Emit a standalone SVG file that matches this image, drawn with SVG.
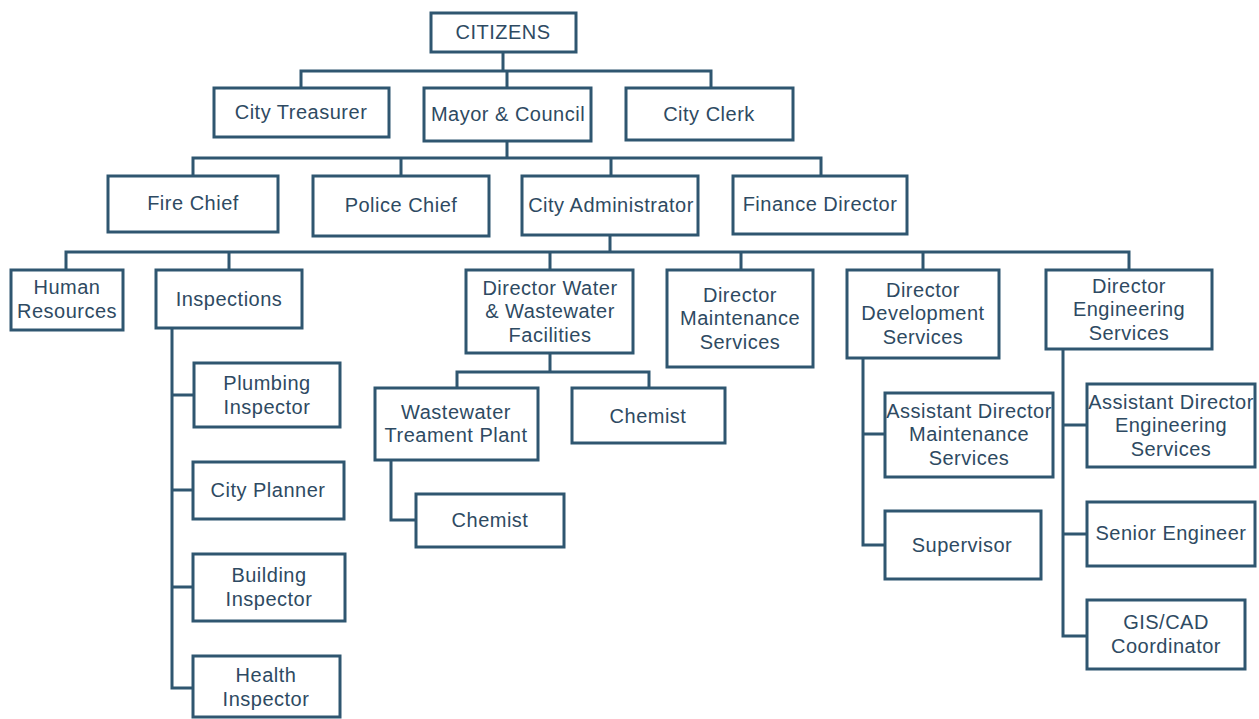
<svg xmlns="http://www.w3.org/2000/svg" width="1259" height="719" viewBox="0 0 1259 719">
<style>
.b{fill:#fff;stroke:#2f5670;stroke-width:3}
.t{font-family:"Liberation Sans",Arial,sans-serif;font-size:20px;letter-spacing:0.5px;fill:#2e4a62;text-anchor:middle}
.c{fill:none;stroke:#2f5670;stroke-width:3}
</style>
<rect width="1259" height="719" fill="#fff"/>
<g id="connectors">
<path class="c" d="M503 52V71M301 88V71H711V88M507 71V88"/>
<path class="c" d="M507 141V158M193 176V158H821V176M401 158V176M611 158V176"/>
<path class="c" d="M610 235V252M66 270V252H1129V270M229 252V270M550 252V270M741 252V270M923 252V270"/>
<path class="c" d="M172 328V688H193M172 395H194M172 490H193M172 587H193"/>
<path class="c" d="M550 353V372M457 388V372H649V388"/>
<path class="c" d="M391 460V520H416"/>
<path class="c" d="M863 358V545H885M863 434H885"/>
<path class="c" d="M1063 349V636H1087M1063 425H1087M1063 534H1087"/>
</g>
<g id="citizens"><rect class="b" x="431" y="13" width="145" height="39"/><text class="t" x="503" y="39">CITIZENS</text></g>
<g id="treasurer"><rect class="b" x="214" y="88" width="175" height="49"/><text class="t" x="301" y="119">City Treasurer</text></g>
<g id="mayor"><rect class="b" x="424" y="88" width="167" height="53"/><text class="t" x="508" y="121">Mayor &amp; Council</text></g>
<g id="clerk"><rect class="b" x="626" y="88" width="167" height="52"/><text class="t" x="709" y="121">City Clerk</text></g>
<g id="fire"><rect class="b" x="108" y="176" width="170" height="56"/><text class="t" x="193" y="210">Fire Chief</text></g>
<g id="police"><rect class="b" x="313" y="176" width="176" height="60"/><text class="t" x="401" y="212">Police Chief</text></g>
<g id="admin"><rect class="b" x="522" y="176" width="176" height="59"/><text class="t" x="611" y="212">City Administrator</text></g>
<g id="finance"><rect class="b" x="733" y="176" width="174" height="58"/><text class="t" x="820" y="211">Finance Director</text></g>
<g id="hr"><rect class="b" x="11" y="270" width="112" height="60"/><text class="t" x="67" y="294">Human</text><text class="t" x="67" y="318">Resources</text></g>
<g id="inspections"><rect class="b" x="156" y="270" width="146" height="58"/><text class="t" x="229" y="306">Inspections</text></g>
<g id="water"><rect class="b" x="466" y="270" width="167" height="83"/><text class="t" x="550" y="295">Director Water</text><text class="t" x="550" y="318">&amp; Wastewater</text><text class="t" x="550" y="342">Facilities</text></g>
<g id="maint"><rect class="b" x="667" y="270" width="146" height="97"/><text class="t" x="740" y="302">Director</text><text class="t" x="740" y="325">Maintenance</text><text class="t" x="740" y="349">Services</text></g>
<g id="dev"><rect class="b" x="847" y="270" width="152" height="88"/><text class="t" x="923" y="297">Director</text><text class="t" x="923" y="320">Development</text><text class="t" x="923" y="344">Services</text></g>
<g id="eng"><rect class="b" x="1046" y="270" width="166" height="79"/><text class="t" x="1129" y="293">Director</text><text class="t" x="1129" y="316">Engineering</text><text class="t" x="1129" y="340">Services</text></g>
<g id="plumbing"><rect class="b" x="194" y="363" width="146" height="64"/><text class="t" x="267" y="390">Plumbing</text><text class="t" x="267" y="414">Inspector</text></g>
<g id="planner"><rect class="b" x="193" y="462" width="151" height="57"/><text class="t" x="268" y="497">City Planner</text></g>
<g id="building"><rect class="b" x="193" y="554" width="152" height="67"/><text class="t" x="269" y="582">Building</text><text class="t" x="269" y="606">Inspector</text></g>
<g id="health"><rect class="b" x="193" y="656" width="147" height="61"/><text class="t" x="266" y="682">Health</text><text class="t" x="266" y="706">Inspector</text></g>
<g id="wtp"><rect class="b" x="375" y="388" width="163" height="72"/><text class="t" x="456" y="419">Wastewater</text><text class="t" x="456" y="442">Treament Plant</text></g>
<g id="chemist1"><rect class="b" x="572" y="388" width="153" height="55"/><text class="t" x="648" y="423">Chemist</text></g>
<g id="chemist2"><rect class="b" x="416" y="494" width="148" height="53"/><text class="t" x="490" y="527">Chemist</text></g>
<g id="adm"><rect class="b" x="885" y="393" width="168" height="84"/><text class="t" x="969" y="418">Assistant Director</text><text class="t" x="969" y="441">Maintenance</text><text class="t" x="969" y="465">Services</text></g>
<g id="supervisor"><rect class="b" x="885" y="511" width="156" height="68"/><text class="t" x="962" y="552">Supervisor</text></g>
<g id="ade"><rect class="b" x="1087" y="384" width="168" height="83"/><text class="t" x="1171" y="409">Assistant Director</text><text class="t" x="1171" y="432">Engineering</text><text class="t" x="1171" y="456">Services</text></g>
<g id="senior"><rect class="b" x="1087" y="502" width="168" height="64"/><text class="t" x="1171" y="540">Senior Engineer</text></g>
<g id="gis"><rect class="b" x="1087" y="600" width="158" height="69"/><text class="t" x="1166" y="629">GIS/CAD</text><text class="t" x="1166" y="653">Coordinator</text></g>
</svg>
